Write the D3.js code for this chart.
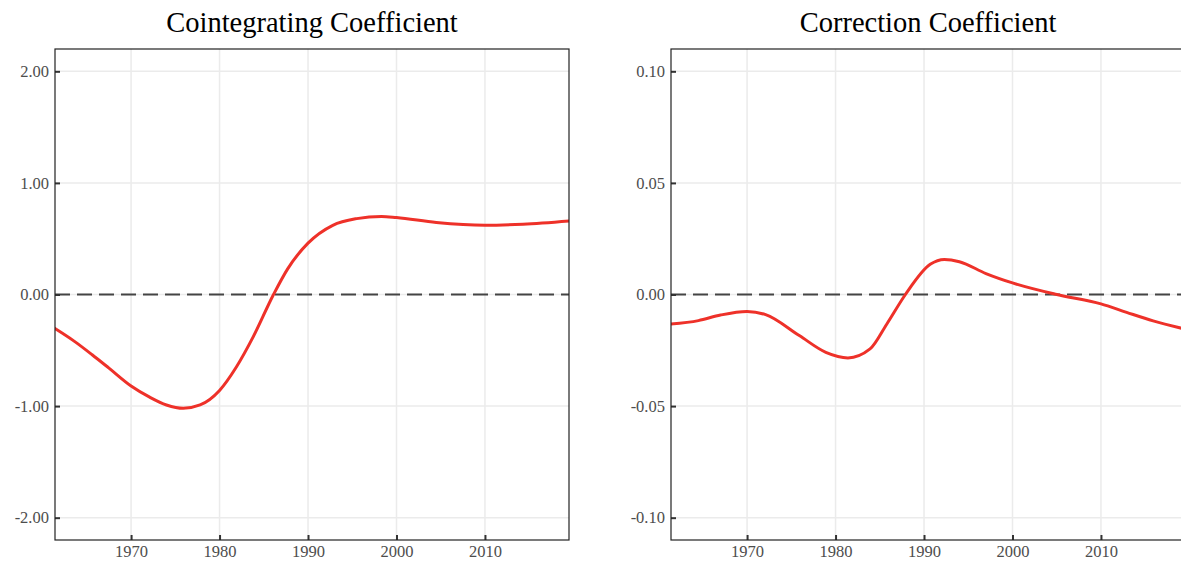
<!DOCTYPE html>
<html>
<head>
<meta charset="utf-8">
<script src="https://cdn.jsdelivr.net/npm/d3@7"></script>
<style>
  body { margin: 0; background: #fff; }
  svg { display: block; font-family: "Liberation Serif", "Times New Roman", serif; }
</style>
</head>
<body>
<svg id="chart" width="1181" height="565"></svg>
<script>
// values
var titles = ["Cointegrating Coefficient", "Correction Coefficient"];

var cointYears = [1961.3, 1963.6, 1965.6, 1967.5, 1970, 1972.1, 1974, 1975.9, 1977.8, 1980, 1981.9, 1983.8, 1986.1, 1987.7, 1990, 1992.8, 1995.5, 1998.3, 2000, 2004.5, 2010, 2014.3, 2019.6];
var cointValues = [-0.30, -0.42, -0.54, -0.66, -0.82, -0.92, -0.99, -1.02, -0.99, -0.86, -0.65, -0.38, 0.00, 0.23, 0.46, 0.62, 0.68, 0.70, 0.69, 0.645, 0.62, 0.63, 0.66];

var corrYears = [1961.3, 1964.5, 1967, 1970, 1972.1, 1975.9, 1978.9, 1981.4, 1983.9, 1985.8, 1987.9, 1990.7, 1992.3, 1994, 1997, 2000, 2005, 2010, 2012.9, 2015.9, 2019.6];
var corrValues = [-0.0133, -0.0117, -0.0092, -0.0076, -0.009, -0.0184, -0.0259, -0.0284, -0.0244, -0.0132, 0.0, 0.0135, 0.0157, 0.0147, 0.0094, 0.0052, 0.0, -0.0042, -0.008, -0.0118, -0.0156];

var xTicks = [1970, 1980, 1990, 2000, 2010];
var cointTicks = [-2, -1, 0, 1, 2];
var corrTicks = [-0.1, -0.05, 0, 0.05, 0.1];

var svg = d3.select("#chart");

function panel(idx, left, years, values, yDomain, yTicks) {
  var w = 514, top = 49, h = 491;
  var x = d3.scaleLinear().domain([1961.4, 2019.5]).range([0, w]);
  var y = d3.scaleLinear().domain(yDomain).range([h, 0]);

  var g = svg.append("g").attr("transform", "translate(" + left + "," + top + ")");

  svg.append("text")
    .attr("x", left + w / 2)
    .attr("y", 32)
    .attr("text-anchor", "middle")
    .style("font-size", "28.5px")
    .attr("fill", "#000")
    .text(titles[idx]);

  // grid
  g.append("g").selectAll("line").data(xTicks).join("line")
    .attr("x1", d => x(d)).attr("x2", d => x(d))
    .attr("y1", 0).attr("y2", h)
    .attr("stroke", "#ebebeb").attr("stroke-width", 1.5);
  g.append("g").selectAll("line").data(yTicks).join("line")
    .attr("x1", 0).attr("x2", w)
    .attr("y1", d => y(d)).attr("y2", d => y(d))
    .attr("stroke", "#ebebeb").attr("stroke-width", 1.5);

  var clipId = "clip" + idx;
  g.append("clipPath").attr("id", clipId)
    .append("rect").attr("width", w).attr("height", h);

  // zero reference
  g.append("line")
    .attr("x1", 0).attr("x2", w)
    .attr("y1", y(0)).attr("y2", y(0))
    .attr("stroke", "#444").attr("stroke-width", 2.2)
    .attr("stroke-dasharray", "15,7");

  var line = d3.line()
    .x(d => x(d[0]))
    .y(d => y(d[1]))
    .curve(d3.curveMonotoneX);

  g.append("path")
    .datum(d3.zip(years, values))
    .attr("clip-path", "url(#" + clipId + ")")
    .attr("fill", "none")
    .attr("stroke", "#ee3129")
    .attr("stroke-width", 3)
    .attr("d", line);

  // axes, ticks pointing inward
  var fmt = d => d3.format(".2f")(d).replace("\u2212", "-");
  var yAxis = g.append("g")
    .call(d3.axisLeft(y).tickValues(yTicks).tickFormat(fmt).tickSize(-5).tickPadding(6));
  var xAxis = g.append("g").attr("transform", "translate(0," + h + ")")
    .call(d3.axisBottom(x).tickValues(xTicks).tickFormat(d3.format("d")).tickSize(-5).tickPadding(5));

  [yAxis, xAxis].forEach(function (a) {
    a.attr("font-family", null).attr("font-size", null);
    a.select(".domain").remove();
    a.selectAll(".tick line").attr("stroke", "#333").attr("stroke-width", 2);
    a.selectAll(".tick text")
      .attr("fill", "#4d4d4d")
      .style("font-size", "16.5px");
  });

  // panel border
  g.append("rect")
    .attr("width", w).attr("height", h)
    .attr("fill", "none")
    .attr("stroke", "#222").attr("stroke-width", 1.2);
}

panel(0, 55, cointYears, cointValues, [-2.2, 2.2], cointTicks);
panel(1, 671, corrYears, corrValues, [-0.11, 0.11], corrTicks);
</script>
</body>
</html>
